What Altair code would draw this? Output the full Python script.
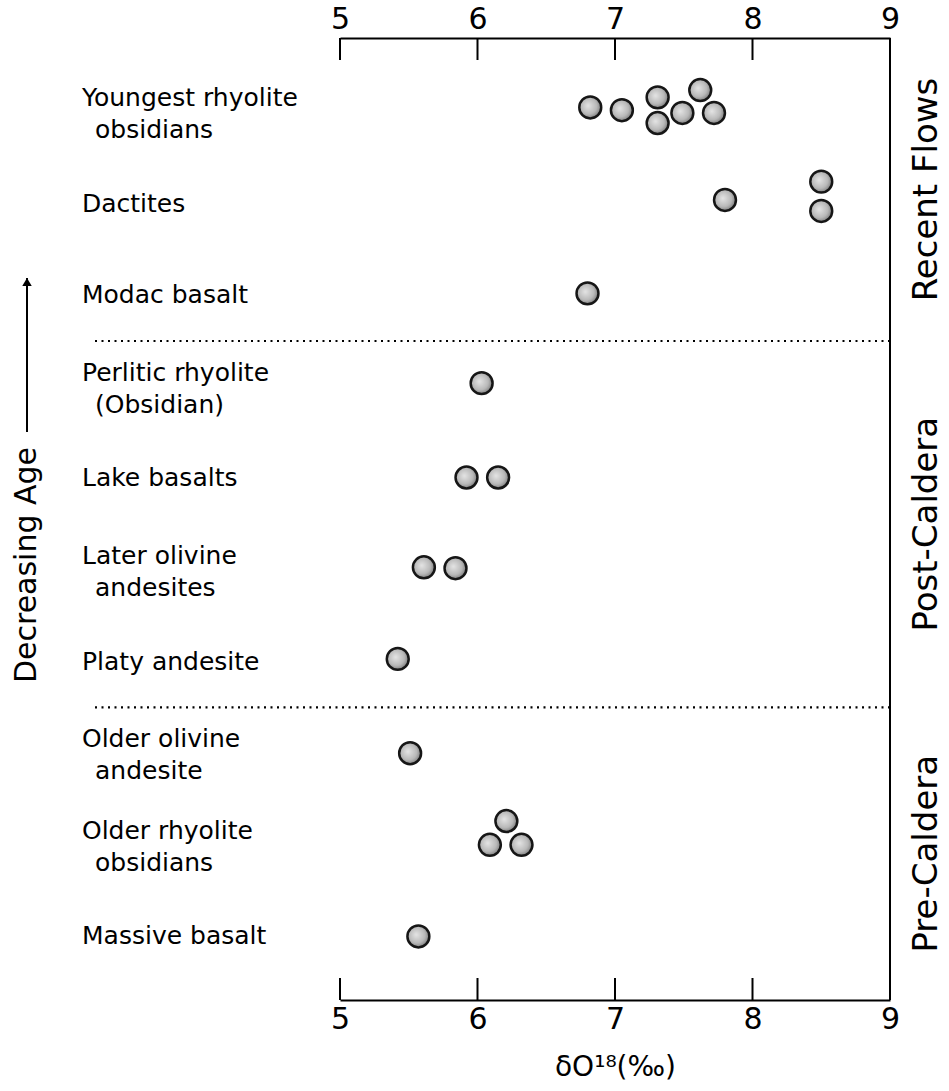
import altair as alt
import pandas as pd

FONT = "DejaVu Sans"

# Rock units, youngest at the top; second text line where the name wraps
rock_names = [
    "Youngest rhyolite", "Dactites", "Modac basalt",
    "Perlitic rhyolite", "Lake basalts", "Later olivine", "Platy andesite",
    "Older olivine", "Older rhyolite", "Massive basalt",
]
rock_names_line2 = [
    "obsidians", "", "",
    "(Obsidian)", "", "andesites", "",
    "andesite", "obsidians", "",
]

# One entry per analysed sample: rock unit (row), δ18O value,
# and a small vertical nudge so overlapping dots in a cluster stay visible
sample_row = [0, 0, 0, 0, 0, 0, 0,
              1, 1, 1,
              2,
              3,
              4, 4,
              5, 5,
              6,
              7,
              8, 8, 8,
              9]
sample_d18o = [6.82, 7.05, 7.31, 7.31, 7.49, 7.62, 7.72,
               7.80, 8.50, 8.50,
               6.80,
               6.03,
               5.92, 6.15,
               5.61, 5.84,
               5.42,
               5.51,
               6.21, 6.09, 6.32,
               5.57]
sample_nudge = [-0.05, -0.02, -0.16, 0.12, 0.01, -0.24, 0.01,
                -0.04, -0.24, 0.08,
                -0.02,
                -0.04,
                -0.01, -0.01,
                -0.03, -0.02,
                -0.03,
                0.0,
                -0.26, 0.0, 0.0,
                0.0]

# Eruptive periods and the row boundaries between them
period_names = ["Recent Flows", "Post-Caldera", "Pre-Caldera"]
period_breaks = [2.5, 6.5]

x_ticks = [5, 6, 7, 8, 9]
x_min, x_max = 5, 9
y_top, y_bottom = -0.808, 9.694

W, H = 550, 962

samples = pd.DataFrame({
    "row": sample_row,
    "d18o": sample_d18o,
    "pos": [r + n for r, n in zip(sample_row, sample_nudge)],
})
rocks = pd.DataFrame({
    "row": list(range(len(rock_names))),
    "line1": rock_names,
    "line2": rock_names_line2,
})
bounds = [y_top] + period_breaks + [y_bottom]
periods = pd.DataFrame({
    "name": period_names,
    "mid": [(bounds[i] + bounds[i + 1]) / 2 for i in range(len(period_names))],
})
breaks = pd.DataFrame({"pos": period_breaks})
ticks = pd.DataFrame({"v": x_ticks[:-1]})

xs = alt.Scale(domain=[x_min, x_max], nice=False, zero=False)
ys = alt.Scale(domain=[y_top, y_bottom], reverse=True, nice=False, zero=False)

axis_common = dict(
    values=x_ticks, ticks=False, grid=False,
    domainColor="black", domainWidth=2,
    labelFont=FONT, labelFontSize=30, labelColor="black",
    labelFlush=False, labelPadding=4,
)
bottom_axis = alt.Axis(
    orient="bottom", title="δO¹⁸(‰)", titleFont=FONT, titleFontSize=28,
    titleFontWeight="normal", titleColor="black", titlePadding=19,
    **axis_common,
)
top_axis = alt.Axis(orient="top", title=None, **axis_common)

# Shaded dots: light centre, dark rim
dot_fill = alt.RadialGradient(
    gradient="radial",
    stops=[
        alt.GradientStop(color="#e4e4e4", offset=0),
        alt.GradientStop(color="#b8b8b8", offset=0.6),
        alt.GradientStop(color="#6a6a6a", offset=1),
    ],
    x1=0.4, y1=0.42, r1=0, x2=0.45, y2=0.45, r2=0.62,
)

dots = alt.Chart(samples).mark_circle(
    size=480, fill=dot_fill, stroke="#161616", strokeWidth=2.5, opacity=1
).encode(
    x=alt.X("d18o:Q", scale=xs, axis=bottom_axis),
    y=alt.Y("pos:Q", scale=ys, axis=None),
)

# Inward tick marks on the top and bottom scales
top_ticks = alt.Chart(ticks).mark_rule(color="black", strokeWidth=2).encode(
    x=alt.X("v:Q", scale=xs, axis=top_axis),
    y=alt.value(0), y2=alt.value(22),
)
bottom_ticks = alt.Chart(ticks).mark_rule(color="black", strokeWidth=2).encode(
    x=alt.X("v:Q", scale=xs, axis=None),
    y=alt.value(H - 22), y2=alt.value(H),
)

# Right-hand frame line
frame = alt.Chart(pd.DataFrame({"v": [x_max]})).mark_rule(
    color="black", strokeWidth=2
).encode(
    x=alt.X("v:Q", scale=xs, axis=None),
    y=alt.value(0), y2=alt.value(H),
)

# Dotted separators between eruptive periods
separators = alt.Chart(breaks).mark_rule(
    color="black", strokeWidth=2.2, strokeDash=[2, 4.5]
).encode(
    x=alt.value(-245), x2=alt.value(W),
    y=alt.Y("pos:Q", scale=ys, axis=None),
)

label_style = dict(font=FONT, fontSize=25, align="left", baseline="middle", color="black")

single_labels = alt.Chart(rocks).transform_filter("datum.line2 == ''").mark_text(
    **label_style
).encode(
    x=alt.value(-258), y=alt.Y("row:Q", scale=ys, axis=None), text="line1:N",
)
first_lines = alt.Chart(rocks).transform_filter("datum.line2 != ''").mark_text(
    dy=-14, **label_style
).encode(
    x=alt.value(-258), y=alt.Y("row:Q", scale=ys, axis=None), text="line1:N",
)
second_lines = alt.Chart(rocks).transform_filter("datum.line2 != ''").mark_text(
    dy=18, **label_style
).encode(
    x=alt.value(-245), y=alt.Y("row:Q", scale=ys, axis=None), text="line2:N",
)

period_labels = alt.Chart(periods).mark_text(
    font=FONT, fontSize=34, angle=270, align="center", baseline="middle", color="black"
).encode(
    x=alt.value(W + 37), y=alt.Y("mid:Q", scale=ys, axis=None), text="name:N",
)

# "Decreasing Age" with an upward arrow
age_text = alt.Chart(pd.DataFrame({"t": ["Decreasing Age"]})).mark_text(
    font=FONT, fontSize=30, angle=270, align="center", baseline="middle", color="black"
).encode(x=alt.value(-313), y=alt.value(527), text="t:N")
age_arrow = alt.Chart(pd.DataFrame({"t": [0]})).mark_rule(
    color="black", strokeWidth=2
).encode(x=alt.value(-313), y=alt.value(394), y2=alt.value(240))
age_head = alt.Chart(pd.DataFrame({"t": [0]})).mark_point(
    shape="triangle-up", filled=True, color="black", size=90, opacity=1
).encode(x=alt.value(-313), y=alt.value(244))

chart = alt.layer(
    separators, top_ticks, bottom_ticks, frame,
    single_labels, first_lines, second_lines, period_labels,
    age_arrow, age_head, age_text, dots,
).resolve_axis(x="independent").properties(
    width=W, height=H,
    autosize=alt.AutoSizeParams(type="none"),
    padding={"left": 340, "top": 38, "right": 59, "bottom": 91},
    background="white",
).configure_view(stroke=None)

chart.save("out.html", embed_options={"renderer": "svg", "actions": False})
